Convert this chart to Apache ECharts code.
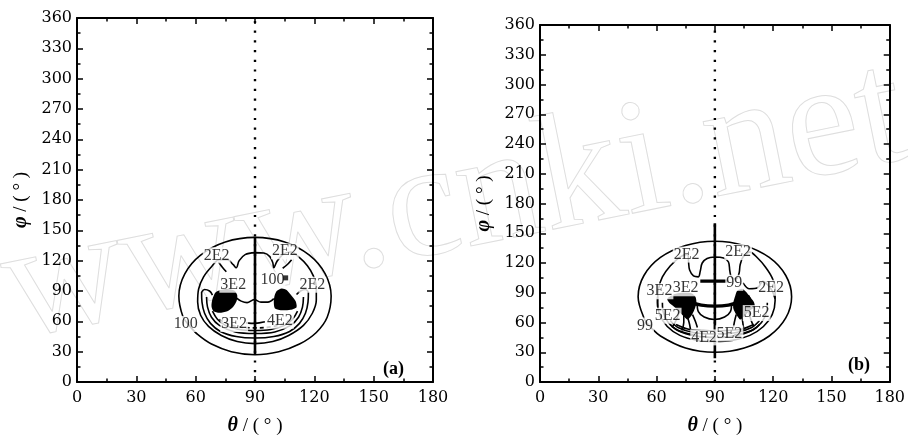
<!DOCTYPE html>
<html>
<head>
<meta charset="utf-8">
<script src="https://cdn.jsdelivr.net/npm/echarts@6/dist/echarts.min.js"></script>
<style>
  html, body { margin: 0; padding: 0; background: #fff; }
  #chart { width: 908px; height: 441px; }
</style>
</head>
<body>
<div id="chart"></div>
<script>
// Axis ranges (degrees)
const thetaMin = 0, thetaMax = 180, thetaStep = 30;
const phiMin = 0, phiMax = 360, phiStep = 30;

// Reference line at theta = 90 deg
const midDots = [[90, 0], [90, 360]];
const aMidSolid = [[90, 27], [90, 143]];
const bMidSolid = [[90, 24], [90, 160]];

// ---------- panel (a) contours, [theta, phi] ----------
const aRing100 = [[56.7,56],[53.5,65],[51.5,85],[54.5,107],[62.5,125.5],[75,138.5],[90,143],[105,138.5],[117.5,125.5],[125.5,107],[128.5,85],[126.5,64],[121,49],[112.5,37.5],[102,30],[90,27],[78,30],[68,37.5],[61,47],[56.7,56]];
const aRing200 = [[90,128],[94.5,127.5],[97.5,124],[99,118],[99.5,113],[101,119],[104,126],[108,128.5],[112.5,123],[116.5,115],[119.5,105],[121,93],[121,81],[119,68],[114.5,56],[107,46],[99,40],[90,38],[81,40],[73,46],[66.5,55],[62.5,66],[61,79],[61.5,92],[64,104],[68,114],[72,121],[76,121],[79,116],[80.5,113],[82,120],[85,126],[90,128]];
const aBowl1 = [[63,89],[63.2,79],[64.5,68],[67.5,58],[72.5,50],[80.5,45],[90,43.5],[99.5,45],[107.5,50],[112.5,58],[115.5,68],[116.8,79],[117,89]];
const aBowl2 = [[65.5,84],[66,74],[68,64],[72,56],[80,49.5],[90,48],[100,49.5],[108,56],[112,64],[114,74],[114.5,84]];
const aBowl3 = [[68.5,70],[71,62],[75,56],[82,52],[90,51],[98,52],[105,56],[109,62],[111.5,70]];
const aBowl4 = [[72,62],[76,57.5],[82,54.5],[90,53.5],[98,54.5],[104,57.5],[108,62]];
const aEarL = [[63,89],[64.5,91.5],[67,90],[68.5,86]];
const aEarR = [[117,89],[115.5,91.5],[113,90],[111,86.5]];
const aMid = [[80.7,83],[83,80],[86,78.5],[89.6,81.5],[93,79],[96.5,79],[99.5,82.5]];
const aLow = [[85.5,58.5],[90,58],[95,59.5]];
const aLead1 = [[71.5,119],[73.5,113.5],[75.5,109]];
const aLead2 = [[108.5,121],[106.5,116.5],[104,112.5]];
const aBlobL = [[70,88.5],[72.5,91],[76,92],[79.5,90.5],[81,86],[80.7,80],[79,74.5],[76,70],[72,68.5],[69,70],[68,75],[68.5,82]];
const aBlobR = [[101,90],[103.5,92.5],[106,91],[108,86.5],[110.5,80],[111,74],[108,71.5],[103,71],[100,73],[99.5,80],[100,86]];
const aDot = [[105.5,103]];
const aLabels = [['2E2',70.6,125.3],['2E2',105.1,129.3],['3E2',79,96.2],['100',98.8,101],['2E2',119,96.2],['100',55,57.4],['3E2',79.5,57.4],['4E2',102.6,60.6]];

// ---------- panel (b) contours, [theta, phi] ----------
const bRing99 = [[56.5,56.3],[53.5,64.6],[50.5,86],[53.5,107.4],[62,125.6],[74.9,137.7],[90,142],[105.1,137.7],[118,125.6],[126.5,107.4],[129.5,86],[126.5,64.6],[118,46.4],[105.1,34.3],[90,30],[74.9,34.3],[62,46.4],[56.5,56.3]];
const bRing200 = [[90,126],[94.5,125],[97,121],[97.7,112],[98.5,106],[101,104],[102.5,110],[103,118],[104.5,126],[108,131],[112,125],[116,116],[119.5,105],[121,94],[121,82],[119.5,68],[115,56],[108,47],[99,42],[90,41],[81,42],[72,47],[65.5,56],[61.5,68],[60.5,80],[61,94],[63,106],[67,117],[72,126],[76,129],[76.5,120],[77,113],[79,107],[81.5,106],[82.5,112],[83.5,120],[86,124.5],[90,126]];
const bBowl1 = [[63,80],[63.5,70],[66,60],[71,52],[80,46.5],[90,45],[100,46.5],[109,52],[114,60],[116.5,70],[117,80]];
const bBowl2 = [[67,62],[71,55],[79,50],[90,48.5],[101,50],[109,55],[113,62]];
const bBowl3 = [[70,58],[76,53.5],[84,52],[90,51.5],[96,52],[104,53.5],[110,58]];
const bHatchL = [[67,58],[70,53],[75,49.5],[80,47.5]];
const bHatchR = [[100,47.5],[105,49.5],[110,53],[113,58]];
const bBar = [[82.5,101.7],[97,101.7]];
const bArc = [[70.8,86.5],[77.5,80.5],[83,77.5],[90,76.5],[97,77.5],[102,80.5],[108,86.5]];
const bInnerU = [[80.9,79],[81.5,71],[84.5,65.5],[89.8,63],[95,65.5],[98,71],[98.6,79]];
const bEarR = [[104.5,100],[107.8,94],[112,95],[114.6,101.5],[117,98.5],[119.5,92],[121,84]];
const bTickL = [[60.5,86],[60.5,76]];
const bStreak1 = [[72,72],[70,62],[68,55]];
const bStreak2 = [[74,68],[74,60],[73,52]];
const bStreak3 = [[76,65],[77,58],[77.5,52]];
const bStreak4 = [[78.5,68],[80,61],[81,55]];
const bStreak5 = [[101,68],[100,60],[99.5,54]];
const bStreak6 = [[104,66],[104.5,58],[105,52]];
const bStreak7 = [[107.5,72],[108.5,63],[110,56]];
const bBlobL = [[65.5,84],[69,88.5],[73,90],[78,89.5],[80,86],[80.5,80],[79.5,73],[78,67],[76,63],[74,66],[71.5,71],[69,76],[66.5,80]];
const bBlobR = [[101.5,92],[104,94],[106,91],[108,86],[110,81],[110.5,76],[108,72],[105,66],[103,63],[101,68],[99.5,74],[99.5,80],[100.5,87]];
const bLabels = [['2E2',75.5,128.5],['2E2',102,131],['3E2',61.5,91.5],['3E2',75,94.5],['99',100,100],['2E2',119,95],['5E2',65.7,66.8],['5E2',111.5,69.5],['99',54,57],['4E2',84.5,45],['5E2',97.5,49]];

const serif = 'Liberation Serif';
const lw = 1.6;

function contour(panel, pts, width, type) {
  return {
    type: 'line', xAxisIndex: panel * 2, yAxisIndex: panel * 2,
    data: pts, smooth: 0.35, symbol: 'none', silent: true, z: 3,
    lineStyle: { color: '#000', width: width || lw, type: type || 'solid' }
  };
}
function straight(panel, pts, width, type) {
  const s = contour(panel, pts, width, type);
  s.smooth = false;
  return s;
}
function filled(panel, poly) {
  return {
    type: 'custom', xAxisIndex: panel * 2, yAxisIndex: panel * 2,
    data: [poly[0]], silent: true, z: 3,
    renderItem: (params, api) => ({
      type: 'polygon',
      shape: { points: poly.map(p => api.coord(p)), smooth: 0.25 },
      style: { fill: '#000' }
    })
  };
}
function labels(panel, list) {
  return {
    type: 'scatter', xAxisIndex: panel * 2, yAxisIndex: panel * 2,
    data: list.map(l => ({ name: l[0], value: [l[1], l[2]] })),
    symbolSize: 1, itemStyle: { color: 'rgba(0,0,0,0)' }, silent: true, z: 6,
    label: {
      show: true, position: 'inside', formatter: '{b}', color: '#000',
      fontFamily: serif, fontSize: 16, backgroundColor: '#fff', padding: [0, 1]
    }
  };
}

function xAxis(grid, position, withLabel) {
  const ax = {
    type: 'value', gridIndex: grid, position: position,
    min: thetaMin, max: thetaMax, interval: thetaStep,
    axisLine: { show: true, onZero: false, lineStyle: { color: '#000', width: 2 } },
    axisTick: { show: true, inside: true, length: 6, lineStyle: { color: '#000', width: 1.5 } },
    minorTick: { show: true, splitNumber: 2, length: 3.5, lineStyle: { color: '#000', width: 1.5 } },
    splitLine: { show: false },
    axisLabel: { show: withLabel, color: '#000', fontFamily: 'DejaVu Serif', fontSize: 16, margin: 8 }
  };
  if (withLabel) {
    ax.name = '{i|θ} / ( ° )';
    ax.nameLocation = 'middle';
    ax.nameGap = 34;
    ax.nameTextStyle = {
      color: '#000', fontFamily: serif, fontSize: 19,
      rich: { i: { fontFamily: serif, fontSize: 20, fontStyle: 'italic', fontWeight: 'bold', color: '#000' } }
    };
  }
  return ax;
}
function yAxis(grid, position, withLabel) {
  const ax = {
    type: 'value', gridIndex: grid, position: position,
    min: phiMin, max: phiMax, interval: phiStep,
    axisLine: { show: true, onZero: false, lineStyle: { color: '#000', width: 2 } },
    axisTick: { show: true, inside: true, length: 6, lineStyle: { color: '#000', width: 1.5 } },
    minorTick: { show: true, splitNumber: 2, length: 3.5, lineStyle: { color: '#000', width: 1.5 } },
    splitLine: { show: false },
    axisLabel: { show: withLabel, color: '#000', fontFamily: 'DejaVu Serif', fontSize: 16, margin: 5 }
  };
  if (withLabel) {
    ax.name = '{i|φ} / ( ° )';
    ax.nameLocation = 'middle';
    ax.nameGap = 46;
    ax.nameTextStyle = {
      color: '#000', fontFamily: serif, fontSize: 19,
      rich: { i: { fontFamily: serif, fontSize: 20, fontStyle: 'italic', fontWeight: 'bold', color: '#000' } }
    };
  }
  return ax;
}

const series = [];
[0, 1].forEach(p => {
  series.push(straight(p, midDots, 2.4, [2.2, 7.5]));
  series.push(straight(p, p === 0 ? aMidSolid : bMidSolid, 2.6));
});
// panel (a)
[aRing100, aRing200, aBowl1, aBowl2, aBowl3, aEarL, aEarR, aMid, aLow, aLead1, aLead2]
  .forEach(l => series.push(contour(0, l)));
series.push(contour(0, aBowl4, lw, [4, 3]));
series.push(filled(0, aBlobL), filled(0, aBlobR));
series.push({
  type: 'scatter', xAxisIndex: 0, yAxisIndex: 0, data: aDot, symbol: 'rect',
  symbolSize: 5, itemStyle: { color: '#000' }, silent: true, z: 7
});
series.push(labels(0, aLabels));
// panel (b)
[bRing99, bRing200, bBowl1, bBowl2, bBowl3, bHatchL, bHatchR, bInnerU, bEarR,
 bStreak1, bStreak2, bStreak3, bStreak4, bStreak5, bStreak6, bStreak7]
  .forEach(l => series.push(contour(1, l)));
series.push(straight(1, bTickL, lw));
series.push(contour(1, bArc, 3.4));
series.push(straight(1, bBar, 3.4));
series.push(filled(1, bBlobL), filled(1, bBlobR));
series.push(labels(1, bLabels));

const chart = echarts.init(document.getElementById('chart'), null, { renderer: 'canvas' });
chart.setOption({
  animation: false,
  backgroundColor: '#fff',
  grid: [
    { left: 77, top: 18, width: 356, height: 372 },
    { left: 540, top: 25, width: 356, height: 367 }
  ],
  xAxis: [xAxis(0, 'bottom', true), xAxis(0, 'top', false), xAxis(1, 'bottom', true), xAxis(1, 'top', false)],
  yAxis: [yAxis(0, 'left', true), yAxis(0, 'right', false), yAxis(1, 'left', true), yAxis(1, 'right', false)],
  graphic: [
    {
      type: 'text', x: 455, y: 205, rotation: 0.2, z: -10, silent: true,
      style: {
        text: 'www.cnki.net', fontFamily: serif, fontSize: 165,
        fill: 'none', stroke: '#dedede', lineWidth: 1,
        align: 'center', verticalAlign: 'middle'
      }
    },
    { type: 'text', left: 383, top: 360, z: 10, style: { text: '(a)', fontFamily: serif, fontWeight: 'bold', fontSize: 18, fill: '#000' } },
    { type: 'text', left: 848, top: 356, z: 10, style: { text: '(b)', fontFamily: serif, fontWeight: 'bold', fontSize: 18, fill: '#000' } }
  ],
  series: series
});
</script>
</body>
</html>
